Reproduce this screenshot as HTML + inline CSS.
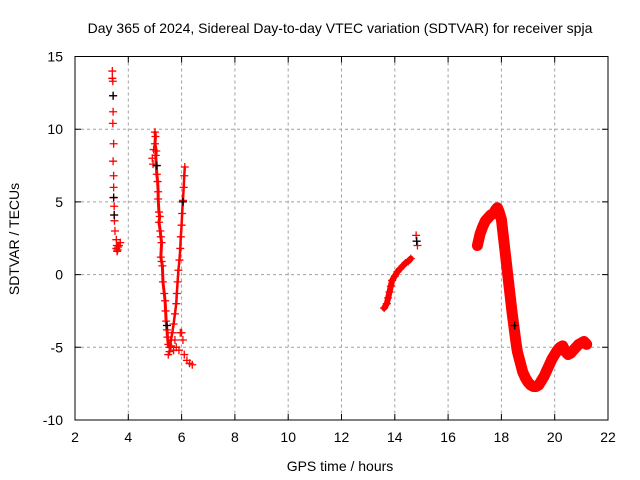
<!DOCTYPE html>
<html><head><meta charset="utf-8"><style>
body{margin:0;background:#fff}
svg{display:block;font-family:"Liberation Sans",sans-serif}
</style></head><body>
<svg id="chart" width="640" height="480">
<rect width="640" height="480" fill="#fff"/>
<text x="340" y="33" text-anchor="middle" font-size="14">Day 365 of 2024, Sidereal Day-to-day VTEC variation (SDTVAR) for receiver spja</text>
<text x="340" y="471" text-anchor="middle" font-size="14">GPS time / hours</text>
<text transform="translate(19,239) rotate(-90)" text-anchor="middle" font-size="14">SDTVAR / TECUs</text>
<g id="grid"></g>
<g id="ticks"></g>
<g id="series"></g>
<rect x="75" y="56.5" width="533" height="363.5" fill="none" stroke="#000" stroke-width="1"/>
</svg>
<script>
const xTicks=[2,4,6,8,10,12,14,16,18,20,22];
const yTicks=[15,10,5,0,-5,-10];
const segA=[[3.40,14.0],[3.40,13.5],[3.42,13.3],[3.43,12.3],[3.43,11.2],[3.42,10.4],[3.45,9.0],[3.43,7.8],[3.45,6.8],[3.45,6.0],[3.45,5.3],[3.47,4.7],[3.47,4.1],[3.48,3.7],[3.50,3.0],[3.55,2.4],[3.57,2.0],[3.55,1.8],[3.60,1.7],[3.65,2.0],[3.70,2.2],[3.62,1.9],[3.58,1.6]];
const segB=[[4.95,8.6],[4.90,8.0],[4.93,7.6],[5.00,9.8],[5.02,9.5],[5.00,9.0],[5.05,8.5],[5.03,8.2],[5.05,7.5],[5.07,6.9],[5.10,6.4],[5.12,5.7],[5.12,5.2],[5.15,4.3],[5.18,4.0],[5.15,3.6],[5.20,3.0],[5.22,2.6],[5.25,2.2],[5.22,1.2],[5.25,0.9],[5.28,0.6],[5.30,-0.5],[5.35,-1.3],[5.38,-1.8],[5.40,-2.5],[5.42,-3.2],[5.45,-3.8],[5.47,-4.3],[5.50,-4.8],[5.50,-5.5],[5.55,-5.0],[5.60,-4.9],[5.70,-5.2],[5.80,-5.0],[5.90,-5.2],[5.75,-4.5],[5.95,-4.0]];
const segC=[[5.55,-5.3],[5.60,-4.5],[5.65,-4.0],[5.70,-3.4],[5.75,-2.7],[5.80,-2.0],[5.82,-1.3],[5.85,-0.5],[5.88,0.3],[5.92,1.0],[5.95,1.8],[5.97,2.6],[6.00,3.4],[6.02,4.2],[6.05,5.1],[6.08,6.0],[6.10,6.8],[6.12,7.4],[6.0,-4.0],[6.05,-4.5],[6.10,-5.5],[6.20,-5.9],[6.30,-6.1],[6.40,-6.2]];
const segD=[[13.6,-2.3],[13.7,-2.0],[13.75,-1.6],[13.8,-1.2],[13.85,-0.8],[13.9,-0.4],[14.0,-0.1],[14.1,0.2],[14.2,0.4],[14.3,0.6],[14.4,0.8],[14.5,0.9],[14.6,1.1]];
const segD2=[[14.8,2.7],[14.82,2.3],[14.85,2.0]];
const segE=[[17.1,2.0],[17.15,2.4],[17.2,2.8],[17.3,3.3],[17.4,3.7],[17.5,3.9],[17.6,4.1],[17.7,4.2],[17.8,4.5],[17.85,4.6],[17.9,4.4],[18.0,3.8],[18.05,3.0],[18.1,2.2],[18.15,1.4],[18.2,0.6],[18.25,-0.2],[18.3,-1.0],[18.35,-1.8],[18.4,-2.6],[18.45,-3.3],[18.5,-4.0],[18.55,-4.7],[18.6,-5.3],[18.7,-6.0],[18.8,-6.7],[18.9,-7.1],[19.0,-7.4],[19.1,-7.6],[19.2,-7.7],[19.3,-7.7],[19.4,-7.6],[19.5,-7.3],[19.6,-7.0],[19.7,-6.6],[19.8,-6.2],[19.9,-5.8],[20.0,-5.5],[20.1,-5.2],[20.2,-5.0],[20.3,-4.9],[20.4,-5.3],[20.5,-5.5],[20.6,-5.4],[20.7,-5.2],[20.8,-5.0],[20.9,-4.8],[21.0,-4.7],[21.1,-4.6],[21.2,-4.8]];
const blackPts=[[3.43,12.3],[3.45,5.3],[3.47,4.1],[5.07,7.5],[6.05,5.0],[5.45,-3.5],[14.82,2.3],[18.5,-3.5]];

const NS='http://www.w3.org/2000/svg';
const L=75,R=608,T=56.5,B=420;
const sx=v=>L+(v-2)/20*(R-L);
const sy=v=>T+(15-v)/25*(B-T);
function mk(tag,attrs,parent){const e=document.createElementNS(NS,tag);for(const k in attrs)e.setAttribute(k,attrs[k]);parent.appendChild(e);return e;}
const grid=document.getElementById('grid'),ticks=document.getElementById('ticks'),ser=document.getElementById('series');
xTicks.forEach(t=>{const x=sx(t);
 if(t>2&&t<22){const g=mk('line',{x1:x,x2:x,y1:T,y2:B,stroke:'#a0a0a0','stroke-dasharray':'3,3'},grid);}
 const tk=mk('path',{d:`M${x},${B}v-6M${x},${T}v6`,stroke:'#000'},ticks);
 const lb=mk('text',{x:x,y:B+22,'text-anchor':'middle','font-size':'14'},ticks);lb.textContent=t;});
yTicks.forEach(t=>{const y=sy(t);
 if(t<15&&t>-10){const g=mk('line',{x1:L,x2:R,y1:y,y2:y,stroke:'#a0a0a0','stroke-dasharray':'3,3'},grid);}
 const tk=mk('path',{d:`M${L},${y}h6M${R},${y}h-6`,stroke:'#000'},ticks);
 const lb=mk('text',{x:L-12,y:y+5,'text-anchor':'end','font-size':'14'},ticks);lb.textContent=t;});
function band(arr,w){const p=mk('polyline',{points:arr.map(d=>sx(d[0])+','+sy(d[1])).join(' '),fill:'none',stroke:'#f00','stroke-width':w,'stroke-linejoin':'round','stroke-linecap':'round'},ser);}
band(segE,11);band(segD,6);band(segB.slice(3,30),3);band(segC.slice(0,18),2.5);
function pts(arr,col){arr.forEach(d=>{const x=sx(d[0]),y=sy(d[1]);const p=mk('path',{d:`M${x-4},${y}h8M${x},${y-4}v8`,stroke:col,'stroke-width':1.3},ser);});}
[segA,segB,segC,segD,segD2,segE].forEach(s=>pts(s,'#f00'));
pts(blackPts,'#000');
</script>
</body></html>
